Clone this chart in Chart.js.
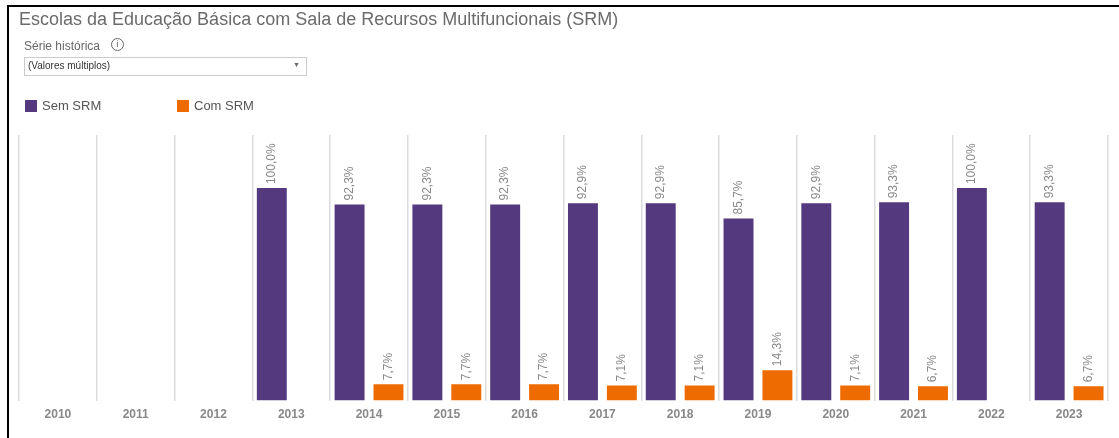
<!DOCTYPE html>
<html><head><meta charset="utf-8">
<script src="https://cdn.jsdelivr.net/npm/chart.js@4.4.1/dist/chart.umd.min.js"></script>
<style>
html,body{margin:0;padding:0;background:#fff;width:1119px;height:438px;overflow:hidden;font-family:"Liberation Sans",Arial,sans-serif;}
#wrap{position:absolute;left:0;top:0;width:1119px;height:438px;}
canvas{position:absolute;left:0;top:0;}
.ov{position:absolute;white-space:nowrap;}
</style></head>
<body>
<div id="wrap"><canvas id="c" width="1119" height="438"></canvas></div>
<div class="ov" style="left:7px;top:5px;width:1112px;height:2px;background:#000"></div>
<div class="ov" style="left:7px;top:5px;width:2px;height:433px;background:#000"></div>
<div class="ov" style="left:19px;top:9px;font-size:18px;color:#6b6b6b;">Escolas da Educação Básica com Sala de Recursos Multifuncionais (SRM)</div>
<div class="ov" style="left:24px;top:39px;font-size:12px;color:#666;">Série histórica</div>
<div class="ov" style="left:111px;top:38px;width:11px;height:11px;border:1px solid #666;border-radius:50%;font-size:9px;line-height:11px;text-align:center;color:#666;">i</div>
<div class="ov" style="left:24px;top:57px;width:281px;height:17px;border:1px solid #ccc;background:#fff;"></div>
<div class="ov" style="left:28px;top:60px;font-size:10px;color:#333;">(Valores múltiplos)</div>
<div class="ov" style="left:293px;top:61px;font-size:7px;color:#666;">▼</div>
<div class="ov" style="left:25px;top:100px;width:12px;height:12px;background:#55397f"></div>
<div class="ov" style="left:42px;top:98px;font-size:13px;color:#555;">Sem SRM</div>
<div class="ov" style="left:177px;top:100px;width:12px;height:12px;background:#ed6b00"></div>
<div class="ov" style="left:194px;top:98px;font-size:13px;color:#555;">Com SRM</div>
<script>
const categories = ["2010","2011","2012","2013","2014","2015","2016","2017","2018","2019","2020","2021","2022","2023"];
const semSRM = [null,null,null,100.0,92.3,92.3,92.3,92.9,92.9,85.7,92.9,93.3,100.0,93.3];
const comSRM = [null,null,null,null,7.7,7.7,7.7,7.1,7.1,14.3,7.1,6.7,null,6.7];
const seriesNames = ["Sem SRM","Com SRM"];
const yMax = 125;

const labelPlugin = {
  id:'vlabels',
  afterDatasetsDraw(chart){
    const ctx = chart.ctx;
    ctx.save();
    ctx.font = '12px "Liberation Sans", Arial, sans-serif';
    ctx.fillStyle = '#8a8a8a';
    ctx.textAlign = 'left';
    ctx.textBaseline = 'middle';
    chart.data.datasets.forEach((ds,i)=>{
      const meta = chart.getDatasetMeta(i);
      meta.data.forEach((bar,j)=>{
        const v = ds.data[j];
        if(v===null||v===undefined) return;
        const txt = v.toFixed(1).replace('.',',') + '%';
        ctx.save();
        ctx.translate(bar.x, bar.y - 4);
        ctx.rotate(-Math.PI/2);
        ctx.fillText(txt, 0, 0);
        ctx.restore();
      });
    });
    ctx.restore();
  }
};

new Chart(document.getElementById('c'), {
  type:'bar',
  data:{
    labels:categories,
    datasets:[
      {label:seriesNames[0], data:semSRM, backgroundColor:'#55397f', categoryPercentage:1.0, barPercentage:0.77},
      {label:seriesNames[1], data:comSRM, backgroundColor:'#ed6b00', categoryPercentage:1.0, barPercentage:0.77}
    ]
  },
  options:{
    responsive:false,
    animation:false,
    layout:{padding:{left:19,right:11,top:135,bottom:9}},
    plugins:{legend:{display:false},tooltip:{enabled:false}},
    scales:{
      x:{
        offset:true,
        border:{display:false},
        grid:{display:true,offset:true,color:'#dcdcdc',lineWidth:1.5,drawTicks:false},
        ticks:{color:'#888',padding:7,font:{size:12,weight:'bold',family:'"Liberation Sans", Arial, sans-serif'}}
      },
      y:{display:false,min:0,max:yMax}
    }
  },
  plugins:[labelPlugin]
});
</script>
</body></html>
